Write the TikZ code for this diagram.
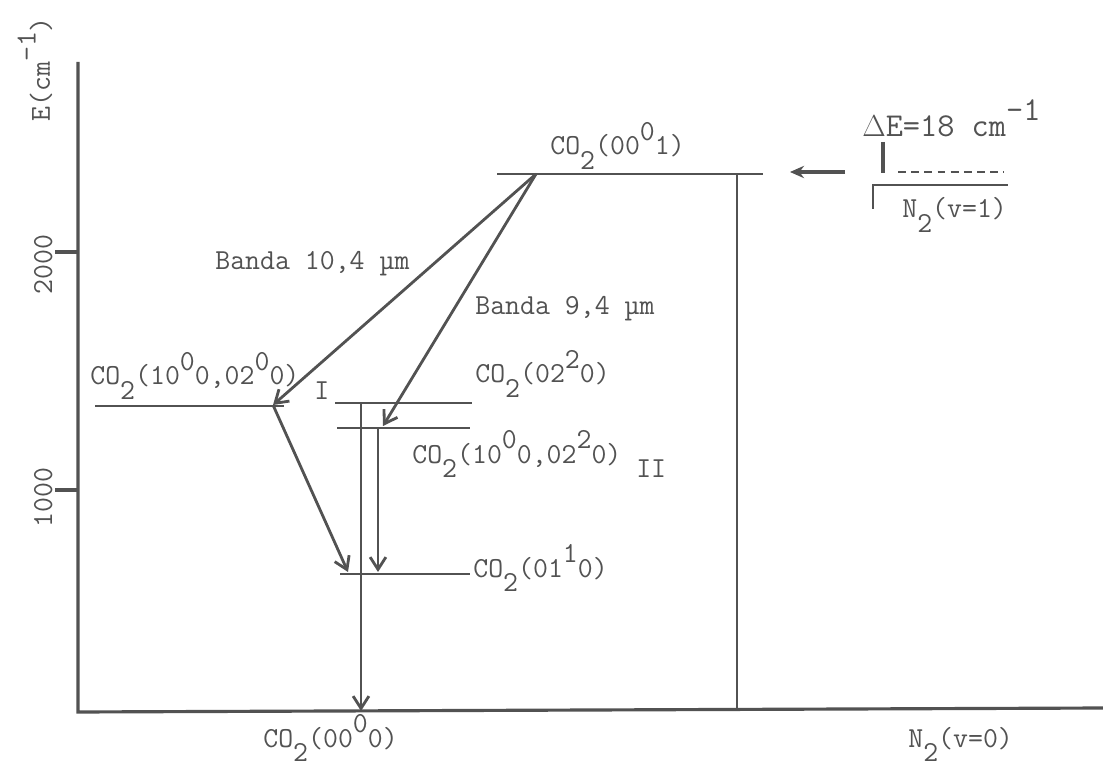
\documentclass[tikz,border=0pt]{standalone}
\usepackage{fontspec}
\usetikzlibrary{arrows.meta}
\definecolor{ink}{gray}{0.32}
\newcommand{\lo}[1]{\raisebox{-0.5em}{#1}}
\newcommand{\hi}[1]{\raisebox{0.5em}{#1}}
\tikzset{
  lvl/.style={draw=ink, line width=1.6pt},
  trans/.style={draw=ink, line width=1.6pt, -{Straight Barb[length=7pt,width=9pt]}},
  lbl/.style={text=ink, font=\ttfamily\fontsize{16.5}{19}\selectfont, inner sep=0pt, anchor=base west},
}
\begin{document}
\begin{tikzpicture}[x=0.02cm, y=-0.02cm]
  \useasboundingbox (0,0) rectangle (1103,770);
  % axes
  \coordinate (top) at (78,62);
  \coordinate (orig) at (78,712);
  \coordinate (xend) at (1103,708);
  \draw[ink, line width=1.8pt] (top) -- (orig) -- (xend);
  \coordinate (t2a) at (55,252); \coordinate (t2b) at (78,252);
  \coordinate (t1a) at (55,490); \coordinate (t1b) at (78,490);
  \draw[ink, line width=1.8pt] (t2a) -- (t2b);
  \draw[ink, line width=1.8pt] (t1a) -- (t1b);
  \node[lbl, rotate=90] (l2000) at (52,295) {2000};
  \node[lbl, rotate=90] (l1000) at (52,528) {1000};
  \node[lbl, rotate=90] (elab) at (50,122) {E(cm\hi{-1})};
  % levels
  \coordinate (u1) at (497,174); \coordinate (u2) at (763,174);
  \draw[lvl] (u1) -- (u2);
  \node[lbl] (uL) at (550,155) {CO\lo{2}(00\hi{0}1)};
  \coordinate (i1) at (95,406); \coordinate (i2) at (284,406);
  \draw[lvl] (i1) -- (i2);
  \node[lbl] (iL) at (90,385) {CO\lo{2}(10\hi{0}0,02\hi{0}0)\lo{ I}};
  \coordinate (c1) at (335,403); \coordinate (c2) at (472,403);
  \draw[lvl] (c1) -- (c2);
  \node[lbl] (cL) at (475,383) {CO\lo{2}(02\hi{2}0)};
  \coordinate (d1) at (337,428); \coordinate (d2) at (470,428);
  \draw[lvl] (d1) -- (d2);
  \node[lbl] (dL) at (412,463) {CO\lo{2}(10\hi{0}0,02\hi{2}0)\lo{ II}};
  \coordinate (e1) at (340,574); \coordinate (e2) at (470,574);
  \draw[lvl] (e1) -- (e2);
  \node[lbl] (eL) at (473,577) {CO\lo{2}(01\hi{1}0)};
  \node[lbl] (gL) at (263,747) {CO\lo{2}(00\hi{0}0)};
  \node[lbl] (nL) at (908,747) {N\lo{2}(v=0)};
  % transitions
  \coordinate (src) at (536,174);
  \coordinate (iT) at (273,405);
  \coordinate (iiT) at (383,426);
  \draw[trans] (src) -- (iT);
  \draw[trans] (src) -- (iiT);
  \node[lbl] (b10) at (215,270) {Banda 10,4 µm};
  \node[lbl] (b9) at (475,315) {Banda 9,4 µm};
  \coordinate (eT1) at (348,572);
  \draw[trans] (iT) -- (eT1);
  \coordinate (dS) at (378,428); \coordinate (eT2) at (378,572);
  \draw[trans] (dS) -- (eT2);
  \coordinate (cS) at (361,403); \coordinate (gT) at (361,711);
  \draw[trans] (cS) -- (gT);
  \coordinate (nS) at (737,174); \coordinate (nE) at (737,710);
  \draw[lvl] (nS) -- (nE);
  % N2(v=1)
  \coordinate (aS) at (845,172); \coordinate (aT) at (790,172);
  \draw[ink, line width=1.8pt, -{Stealth[length=8pt,width=7pt]}] (aS) -- (aT);
  \coordinate (q1) at (898,172); \coordinate (q2) at (1004,172);
  \draw[lvl, dash pattern=on 4.5pt off 3pt] (q1) -- (q2);
  \coordinate (k1) at (883,142); \coordinate (k2) at (883,173);
  \draw[ink, line width=2.4pt] (k1) -- (k2);
  \coordinate (m1) at (873,185); \coordinate (m2) at (1008,185);
  \coordinate (m3) at (873,209);
  \draw[lvl] (m3) -- (m1) -- (m2);
  \node[lbl, font=\ttfamily\fontsize{19}{21}\selectfont] (dEL) at (862,137) {$\Delta$E=18 cm\hi{-1}};
  \node[lbl] (vL) at (902,218) {N\lo{2}(v=1)};
\end{tikzpicture}
\end{document}
